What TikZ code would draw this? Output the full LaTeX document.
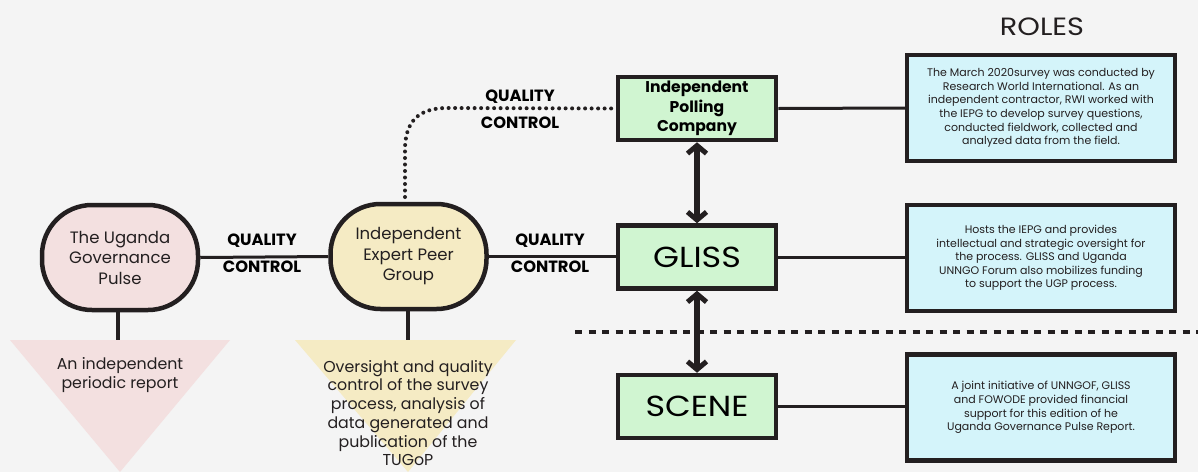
\documentclass[tikz,border=0pt]{standalone}
\usepackage{fontspec}
\setmainfont{Poppins}
\newfontfamily\widefont{Poppins}[FakeStretch=1.15]
\usetikzlibrary{arrows.meta,positioning}
\definecolor{bg}{HTML}{F4F4F4}
\definecolor{ink}{HTML}{231F20}
\definecolor{pinkf}{HTML}{F3E0E0}
\definecolor{yellf}{HTML}{F5EBC4}
\definecolor{greenf}{HTML}{D0F5D1}
\definecolor{bluef}{HTML}{D4F4FA}
\tikzset{
  pill/.style={draw=ink, line width=4.5pt, rounded corners=50pt, minimum width=156pt, minimum height=105pt, align=center, font=\fontsize{16.5}{20.5}\selectfont, text=ink},
  greenbox/.style={draw=ink, line width=4.5pt, fill=greenf, minimum width=158pt, minimum height=63pt, align=center, text=black},
  bluebox/.style={draw=ink, line width=4.5pt, fill=bluef, minimum width=268pt, minimum height=106pt, align=center, text=ink, font=\fontsize{11}{13.6}\selectfont},
  link/.style={draw=ink, line width=3pt},
  stem/.style={draw=ink, line width=4.5pt},
  qc/.style={font=\bfseries\fontsize{16.3}{27}\selectfont, align=center, text=black},
  dbl/.style={draw=ink, line width=6pt, {Straight Barb[length=8pt,width=19pt,line width=5pt]}-{Straight Barb[length=8pt,width=19pt,line width=5pt]}},
  tritext/.style={align=center, text=ink, font=\fontsize{15.8}{18.7}\selectfont}
}
\begin{document}
\begin{tikzpicture}[x=1pt,y=-1pt]
\fill[bg] (0,0) rectangle (1198,472);
\useasboundingbox (0,0) rectangle (1198,472);

% triangles
\fill[pinkf] (10,340) -- (230,340) -- (120,472) -- cycle;
\fill[yellf] (295,340) -- (516,340) -- (408,472) -- cycle;

% pills
\node[pill, fill=pinkf] (ugp) at (120,257.5) {The Uganda\\Governance\\Pulse};
\node[pill, fill=yellf] (iepg) at (408.5,256.5) {Independent\\Expert Peer\\Group};

\coordinate (ugpb) at (118,340);
\coordinate (iepgb) at (408,340);
\draw[stem] (ugp.south -| ugpb) -- (ugpb);
\draw[stem] (iepg.south -| iepgb) -- (iepgb);

\node[tritext] (ugptxt) at (120,375) {An independent\\periodic report};
\node[tritext] (iepgtxt) at (408,413) {Oversight and quality\\control of the survey\\process, analysis of\\data generated and\\publication of the\\TUGoP};

% green boxes
\node[greenbox, font=\bfseries\fontsize{15.6}{19.5}\selectfont] (ipc) at (697,108.5) {Independent\\Polling\\Company};
\node[greenbox, font=\widefont\fontsize{29}{30}\selectfont] (gliss) at (697,257) {GLISS};
\node[greenbox, font=\widefont\fontsize{29}{30}\selectfont] (scene) at (697,406.5) {SCENE};

% blue boxes
\node[bluebox] (b1) at (1041,108) {The March 2020survey was conducted by\\Research World International. As an\\independent contractor, RWI worked with\\the IEPG to develop survey questions,\\conducted fieldwork, collected and\\analyzed data from the field.};
\node[bluebox] (b2) at (1041,258) {Hosts the IEPG and provides\\intellectual and strategic oversight for\\the process. GLISS and Uganda\\UNNGO Forum also mobilizes funding\\to support the UGP process.};
\node[bluebox] (b3) at (1041,407.5) {A joint initiative of UNNGOF, GLISS\\and FOWODE provided financial\\support for this edition of he\\Uganda Governance Pulse Report.};

\node[font=\widefont\fontsize{25}{28}\selectfont, text=ink] (roles) at (1042,27) {ROLES};

% links
\draw[link] (ugp.east) -- (iepg.west);
\draw[link] (iepg.east) -- (gliss.west |- iepg.east);
\draw[link] (ipc.east) -- (b1.west);
\draw[link] (gliss.east) -- (b2.west |- gliss.east);
\draw[link] (scene.east) -- (b3.west |- scene.east);

\node[qc] (qc1) at (262,253.5) {QUALITY\\CONTROL};
\node[qc] (qc2) at (550,253.5) {QUALITY\\CONTROL};
\node[qc] (qc3) at (520,109) {QUALITY\\CONTROL};

% dotted curve
\coordinate (dtop) at (405,197);
\draw[ink, line width=4pt, line cap=round, dash pattern=on 0pt off 6.5pt] (dtop) -- (405,150) .. controls (405,122) and (418,108) .. (447,108) -- (ipc.west);

% double arrows
\draw[dbl] (ipc.south) -- (gliss.north);
\draw[dbl] (gliss.south) -- (scene.north);

% separator
\coordinate (sepL) at (575,332);
\coordinate (sepR) at (1198,332);
\draw[ink, line width=3.5pt, dash pattern=on 7pt off 6.5pt] (sepL) -- (sepR);
\end{tikzpicture}
\end{document}
